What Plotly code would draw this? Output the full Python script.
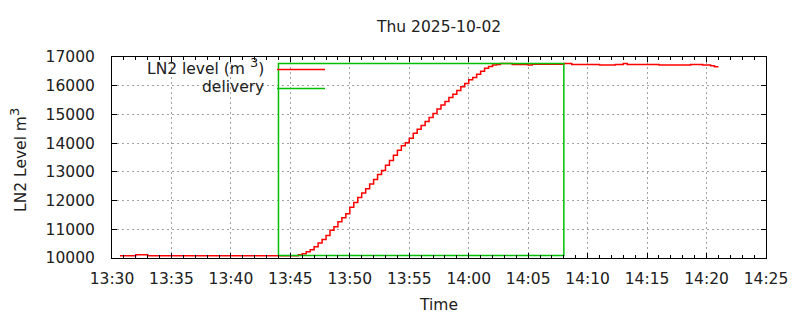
import plotly.graph_objects as go

# ---------------- data ----------------
DAY = "2025-10-02 "
level_times = [
    "13:30:40", "13:32:00", "13:33:00",
    "13:45:40", "13:46:00", "13:46:20", "13:46:40", "13:47:00", "13:47:20", "13:47:40",
    "13:48:00", "13:48:20", "13:48:40", "13:49:00", "13:49:20", "13:49:40", "13:50:00",
    "13:50:20", "13:50:40", "13:51:00", "13:51:20", "13:51:40", "13:52:00", "13:52:20",
    "13:52:40", "13:53:00", "13:53:20", "13:53:40", "13:54:00", "13:54:20", "13:54:40",
    "13:55:00", "13:55:20", "13:55:40", "13:56:00", "13:56:20", "13:56:40", "13:57:00",
    "13:57:20", "13:57:40", "13:58:00", "13:58:20", "13:58:40", "13:59:00", "13:59:20",
    "13:59:40", "14:00:00", "14:00:20", "14:00:40", "14:01:00", "14:01:20", "14:01:40",
    "14:02:00", "14:02:20",
    "14:02:40", "14:03:40", "14:05:00", "14:05:20", "14:08:00", "14:08:40", "14:11:00",
    "14:12:20", "14:13:00", "14:13:20", "14:16:00", "14:18:40", "14:19:40", "14:20:20",
    "14:20:40", "14:21:00",
]
level_values = [
    10075, 10115, 10075,
    10115, 10150, 10220, 10290, 10395, 10520, 10640,
    10780, 10965, 11090, 11265, 11405, 11545, 11765,
    11930, 12105, 12265, 12415, 12580, 12730, 12905,
    13045, 13230, 13395, 13580, 13755, 13905, 14010,
    14170, 14345, 14485, 14615, 14755, 14895, 15035,
    15185, 15325, 15450, 15590, 15705, 15835, 15960,
    16080, 16205, 16290, 16395, 16500, 16605, 16670,
    16720, 16740,
    16775, 16740, 16720, 16745, 16775, 16740, 16720,
    16740, 16775, 16740, 16720, 16740, 16720, 16695,
    16660, 16660,
]

delivery_times = ["13:44:00", "13:44:00", "14:08:00", "14:08:00", "13:44:00"]
delivery_values = [10085, 16775, 16775, 10085, 10085]

x_range = ["13:30:00", "14:25:00"]
y_range = [10000, 17000]
title_text = "Thu 2025-10-02"
x_title = "Time"
y_title = "LN2 Level m<sup><span style='font-size:13px'>3</span></sup>"
legend_labels = ["LN2 level (m <sup><span style='font-size:13px'>3</span></sup>)", "delivery"]

RED = "#ff0000"
GREEN = "#00c000"
GRID = "#a0a0a0"
TEXT = "#202020"
FONT = "DejaVu Sans"
FS = 15.5

W, H = 800, 320
ML, MR, MT, MB = 112, 34, 57, 62
PW, PH = W - ML - MR, H - MT - MB


def px(x):
    return (x - ML) / PW


def py(y):
    return (H - MB - y) / PH


fig = go.Figure()
fig.add_trace(go.Scatter(
    x=[DAY + t for t in level_times], y=level_values,
    mode="lines", line=dict(color=RED, width=1.5, shape="hv"),
    name="LN2 level", showlegend=False, hoverinfo="skip",
))
fig.add_trace(go.Scatter(
    x=[DAY + t for t in delivery_times], y=delivery_values,
    mode="lines", line=dict(color=GREEN, width=1.5),
    name="delivery", showlegend=False, hoverinfo="skip",
))

axis_common = dict(
    showline=True, linecolor="black", linewidth=1, mirror="allticks",
    ticks="inside", ticklen=5, tickcolor="black", tickwidth=1,
    showgrid=True, gridcolor=GRID, gridwidth=1, griddash="2px,3px",
    zeroline=False,
    tickfont=dict(family=FONT, size=FS, color=TEXT),
)

fig.update_xaxes(
    type="date", range=[DAY + x_range[0], DAY + x_range[1]],
    dtick=5 * 60 * 1000, tick0=DAY + "13:30:00", tickformat="%H:%M",
    minor=dict(dtick=60 * 1000, ticks="inside", ticklen=3, tickcolor="black", showgrid=False),
    ticklabelstandoff=6,
    **axis_common,
)
fig.update_yaxes(
    range=y_range, dtick=1000, tickformat="d",
    ticklabelstandoff=13,
    **axis_common,
)

annotations = [
    dict(text=title_text, x=px(438), y=py(27), xref="paper", yref="paper",
         showarrow=False, xanchor="center", yanchor="middle",
         font=dict(family=FONT, size=FS, color=TEXT)),
    dict(text=x_title, x=px(438), y=py(305), xref="paper", yref="paper",
         showarrow=False, xanchor="center", yanchor="middle",
         font=dict(family=FONT, size=FS, color=TEXT)),
    dict(text=y_title, x=px(18), y=py(160), xref="paper", yref="paper",
         showarrow=False, xanchor="center", yanchor="middle", textangle=-90,
         font=dict(family=FONT, size=FS, color=TEXT)),
    dict(text=legend_labels[0], x=px(266), y=py(66), xref="paper", yref="paper",
         showarrow=False, xanchor="right", yanchor="middle",
         font=dict(family=FONT, size=FS, color=TEXT)),
    dict(text=legend_labels[1], x=px(266), y=py(87), xref="paper", yref="paper",
         showarrow=False, xanchor="right", yanchor="middle",
         font=dict(family=FONT, size=FS, color=TEXT)),
]
shapes = [
    dict(type="line", xref="paper", yref="paper", x0=px(277), x1=px(325),
         y0=py(69.5), y1=py(69.5), line=dict(color=RED, width=1.5)),
    dict(type="line", xref="paper", yref="paper", x0=px(277), x1=px(325),
         y0=py(88.5), y1=py(88.5), line=dict(color=GREEN, width=1.5)),
]

fig.update_layout(
    width=W, height=H, autosize=False,
    margin=dict(l=ML, r=MR, t=MT, b=MB, pad=0),
    paper_bgcolor="white", plot_bgcolor="white",
    showlegend=False,
    annotations=annotations, shapes=shapes,
    font=dict(family=FONT, size=FS, color=TEXT),
)

fig.write_html("out.html", config={"displayModeBar": False})
